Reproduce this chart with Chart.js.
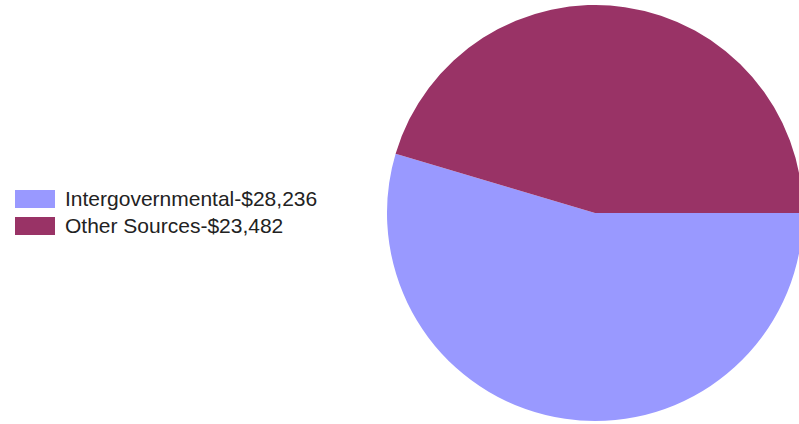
<!DOCTYPE html>
<html>
<head>
<meta charset="utf-8">
<script src="https://cdn.jsdelivr.net/npm/chart.js@4/dist/chart.umd.min.js"></script>
<style>
    html, body { margin: 0; padding: 0; background: #fff; overflow: hidden; width: 799px; height: 424px; }
    #pieWrap { position: absolute; left: 387px; top: 5px; width: 416px; height: 416px; }
    #legend { position: absolute; left: 15px; top: 185px; font-family: Arial, "Liberation Sans", sans-serif; font-size: 21px; color: #222; }
    .item { display: flex; align-items: center; height: 27px; }
    .box { width: 40px; height: 18px; margin-right: 10px; }
</style>
</head>
<body>
<div id="legend"></div>
<div id="pieWrap"><canvas id="pieChart"></canvas></div>
<script>
    // data sumber pendapatan
    const categories = ['Intergovernmental', 'Other Sources'];
    const amounts = [28236, 23482];
    const sliceColors = ['#9999ff', '#993366'];

    const labels = categories.map((c, i) => `${c}-$${amounts[i].toLocaleString('en-US')}`);

    const chart = new Chart(document.getElementById('pieChart'), {
        type: 'pie',
        data: {
            labels: labels,
            datasets: [{
                data: amounts,
                backgroundColor: sliceColors,
                borderWidth: 0
            }]
        },
        options: {
            responsive: true,
            maintainAspectRatio: false,
            animation: false,
            rotation: 90,
            layout: { padding: 0 },
            plugins: {
                legend: { display: false },
                tooltip: { enabled: false }
            }
        }
    });

    // legend manual di kiri
    const legendEl = document.getElementById('legend');
    chart.data.labels.forEach((lbl, i) => {
        const row = document.createElement('div');
        row.className = 'item';
        row.innerHTML = `<span class="box" style="background:${sliceColors[i]}"></span><span>${lbl}</span>`;
        legendEl.appendChild(row);
    });
</script>
</body>
</html>
